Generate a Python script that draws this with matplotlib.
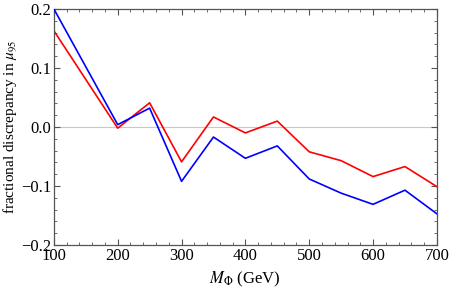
import numpy as np
import matplotlib
matplotlib.use("Agg")
import matplotlib.pyplot as plt
from matplotlib.ticker import MultipleLocator

# masses (GeV)
mass = [100, 200, 250, 300, 350, 400, 450, 500, 550, 600, 650, 700]
# fractional discrepancy, two series
blue_vals = [0.200, 0.004, 0.032, -0.092, -0.017, -0.053, -0.032,
             -0.088, -0.112, -0.131, -0.107, -0.147]
red_vals = [0.163, -0.002, 0.041, -0.059, 0.017, -0.010, 0.010,
            -0.042, -0.057, -0.084, -0.067, -0.101]

plt.rcParams['font.family'] = ['Liberation Serif', 'DejaVu Serif']
plt.rcParams['mathtext.fontset'] = 'stix'

fig = plt.figure(figsize=(4.49, 2.88), dpi=100)
ax = fig.add_axes([0.120, 0.149, 0.853, 0.820])

ax.axhline(0.0, color='#c8c8c8', lw=0.8, zorder=1)
ax.plot(mass, blue_vals, color='#0000ff', lw=1.2, zorder=3)
ax.plot(mass, red_vals, color='#ff0000', lw=1.2, zorder=2)

ax.set_xlim(100, 700)
ax.set_ylim(-0.2, 0.2)
ax.xaxis.set_major_locator(MultipleLocator(100))
ax.xaxis.set_minor_locator(MultipleLocator(20))
ax.yaxis.set_major_locator(MultipleLocator(0.1))
ax.yaxis.set_minor_locator(MultipleLocator(0.02))
ax.yaxis.set_major_formatter(plt.FuncFormatter(
    lambda v, p: ('%.1f' % v).replace('-', '\u2212')))

for sp in ax.spines.values():
    sp.set_color('#555555')
    sp.set_linewidth(0.9)
ax.tick_params(which='both', direction='in', top=True, right=True,
               color='#555555', labelsize=12, pad=2)
ax.tick_params(which='major', length=4, width=0.8)
ax.tick_params(which='minor', length=2, width=0.6)

ax.set_xlabel(r'$M_\Phi$ (GeV)', fontsize=12, labelpad=4)
ax.set_ylabel(r'fractional discrepancy in $\mu_{95}$', fontsize=11)
ax.yaxis.set_label_coords(-0.092, 0.5)

fig.savefig('out.png', dpi=100)
